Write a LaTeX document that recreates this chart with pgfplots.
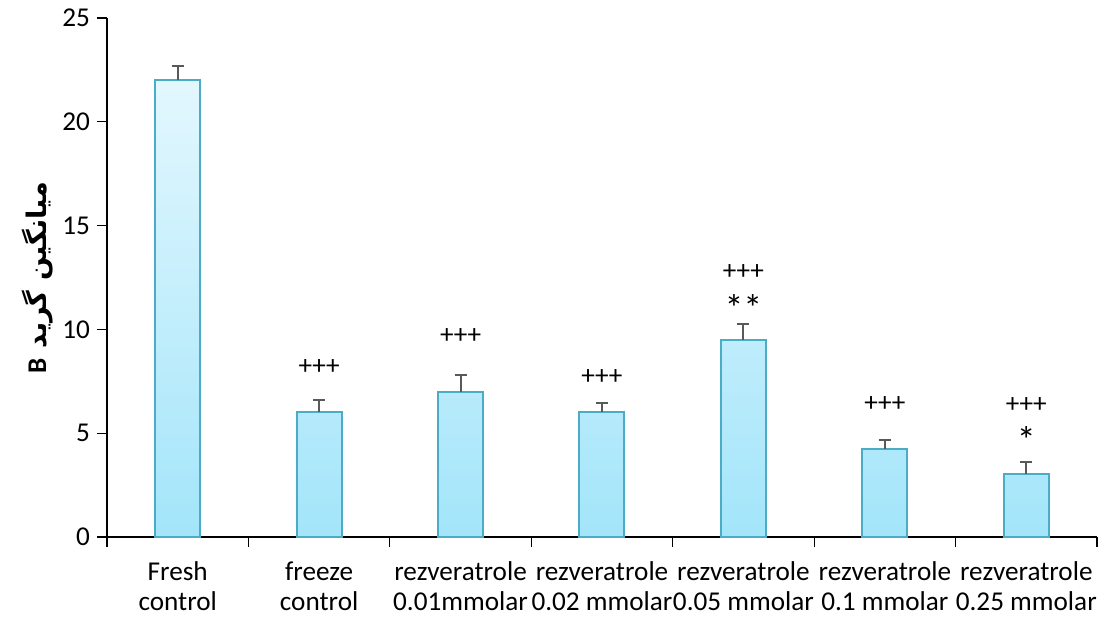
\documentclass[border=0pt]{standalone}
\usepackage{fontspec}
\setmainfont{Carlito}
\newfontfamily\arabicfont[Script=Arabic]{DejaVu Sans}
\TeXXeTstate=1
\usepackage{pgfplots}
\usepackage{pgfplotstable}
\pgfplotsset{compat=1.18}
\definecolor{baredge}{HTML}{4BACC6}
\definecolor{bartop}{HTML}{E3F7FE}
\definecolor{barbot}{HTML}{A3E5FA}
\definecolor{errc}{HTML}{595959}
\newcommand{\bigast}[1]{{\fontsize{19}{19}\selectfont #1}}
\pgfplotstableread{
x y err
0 22.0 0.70
1 6.0 0.60
2 7.0 0.78
3 6.0 0.45
4 9.5 0.75
5 4.24 0.43
6 3.02 0.57
}\bars
\pgfplotstableread{
x y label
1 8.2 +++
2 9.7 +++
3 7.7 +++
4 12.75 +++
4 11.05 \bigast{**}
5 6.4 +++
6 6.35 +++
6 4.65 \bigast{*}
}\marks
\begin{document}
\begin{tikzpicture}
\begin{axis}[
  scale only axis, width=495pt, height=259.5pt,
  xmin=-0.5, xmax=6.5, ymin=0, ymax=25,
  axis x line=bottom, axis y line=left,
  axis line style={-, black, line width=0.6pt},
  ytick={0,5,...,25},
  xtick={0,...,6},
  xticklabels={{Fresh\\control},{freeze\\control},{rezveratrole\\0.01mmolar},{rezveratrole\\0.02 mmolar},{rezveratrole\\0.05 mmolar},{rezveratrole\\0.1 mmolar},{rezveratrole\\0.25 mmolar}},
  minor xtick={-0.5,0.5,...,6.5},
  tick align=outside,
  major x tick style={draw=none},
  minor tick length=5pt, major tick length=5pt,
  tick style={black, line width=0.6pt},
  xticklabel style={align=center, font=\fontsize{13.6}{15}\selectfont, yshift=-4pt},
  yticklabel style={font=\fontsize{13.6}{15}\selectfont},
  /pgf/number format/assume math mode=true,
  ylabel={\arabicfont\bfseries\beginR میانگین گرید {\normalfont\bfseries\fontspec{Carlito} B}\endR},
  ylabel style={font=\fontsize{13.5}{15}\selectfont, yshift=-2pt},
  clip=false,
]
\addplot[ybar, bar width=22.5pt, draw=baredge, line width=1pt,
  top color=bartop, bottom color=barbot,
  error bars/.cd, y dir=plus, y explicit,
  error bar style={errc, line width=1pt},
  error mark options={rotate=90, mark size=3pt, errc, line width=1pt}]
  table[x=x, y=y, y error=err] {\bars};
\addplot[draw=none, mark=none, nodes near coords, point meta=explicit symbolic,
  every node near coord/.append style={anchor=center, font=\fontsize{13.6}{15}\selectfont}]
  table[x=x, y=y, meta=label] {\marks};
\coordinate (SW) at (rel axis cs:0,0);
\end{axis}
\pgfresetboundingbox
\path (SW) ++(-53.5pt,-40pt) rectangle ++(549pt,308.5pt);
\end{tikzpicture}
\end{document}
